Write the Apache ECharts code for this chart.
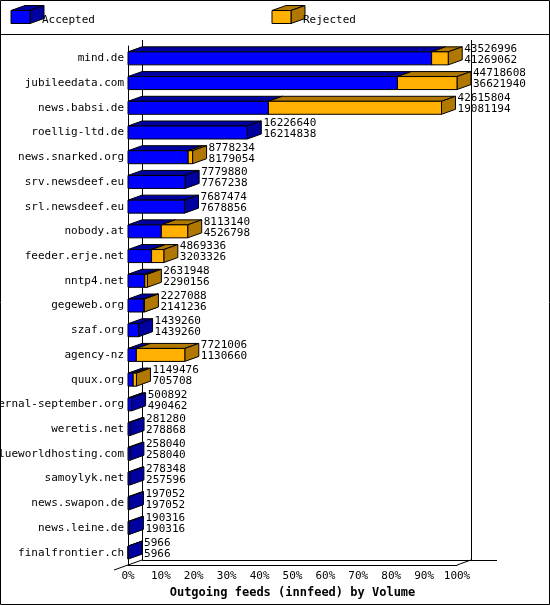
<!DOCTYPE html>
<html><head><meta charset="utf-8">
<script src="https://cdn.jsdelivr.net/npm/echarts@6/dist/echarts.min.js"></script>
<style>html,body{margin:0;padding:0;background:#fff}#c{width:550px;height:605px}</style>
</head><body><div id="c"></div>
<script>
var sites = ['mind.de','jubileedata.com','news.babsi.de','roellig-ltd.de','news.snarked.org','srv.newsdeef.eu','srl.newsdeef.eu','nobody.at','feeder.erje.net','nntp4.net','gegeweb.org','szaf.org','agency-nz','quux.org','eternal-september.org','weretis.net','blueworldhosting.com','samoylyk.net','news.swapon.de','news.leine.de','finalfrontier.ch'];
var offered = [43526996,44718608,42615804,16226640,8778234,7779880,7687474,8113140,4869336,2631948,2227088,1439260,7721006,1149476,500892,281280,258040,278348,197052,190316,5966];
var accepted = [41269062,36621940,19081194,16214838,8179054,7767238,7678856,4526798,3203326,2290156,2141236,1439260,1130660,705708,490462,278868,258040,257596,197052,190316,5966];

var maxV = Math.max.apply(null, offered);
var DX = 14, DY = 5, H = 13;
var FONT = '"DejaVu Sans Mono", monospace';

function box(x0, x1, yc, front, dark) {
  var y0 = yc - H / 2, y1 = yc + H / 2;
  var st = {stroke: '#000', lineWidth: 1};
  return [
    {type: 'polygon', shape: {points: [[x0, y0], [x0 + DX, y0 - DY], [x1 + DX, y0 - DY], [x1, y0]]}, style: Object.assign({fill: dark}, st)},
    {type: 'polygon', shape: {points: [[x1, y0], [x1 + DX, y0 - DY], [x1 + DX, y1 - DY], [x1, y1]]}, style: Object.assign({fill: dark}, st)},
    {type: 'rect', shape: {x: x0, y: y0, width: x1 - x0, height: H}, style: Object.assign({fill: front}, st)}
  ];
}

var data = sites.map(function (s, i) {
  return [i, accepted[i] / maxV * 100, offered[i] / maxV * 100, offered[i], accepted[i]];
});

var chart = echarts.init(document.getElementById('c'));
chart.setOption({
  animation: false,
  grid: {left: 128, right: 93, top: 46, bottom: 40, containLabel: false, outerBoundsMode: 'none'},
  xAxis: {type: 'value', min: 0, max: 100, interval: 10,
    axisLine: {show: true, lineStyle: {color: '#000'}}, axisTick: {show: false},
    splitLine: {show: false},
    axisLabel: {formatter: '{value}%', color: '#000', fontFamily: FONT, fontSize: 11, margin: 6},
    name: 'Outgoing feeds (innfeed) by Volume', nameLocation: 'middle', nameGap: 22,
    nameTextStyle: {color: '#000', fontFamily: FONT, fontSize: 12, fontWeight: 'bold'}},
  yAxis: {type: 'category', data: sites, inverse: true,
    axisLine: {show: true, onZero: false, lineStyle: {color: '#000'}}, axisTick: {show: false},
    axisLabel: {color: '#000', fontFamily: FONT, fontSize: 11, margin: 4}},
  series: [{
    type: 'custom',
    data: data,
    encode: {x: [1, 2], y: 0},
    renderItem: function (params, api) {
      var i = api.value(0);
      var p0 = api.coord([0, i]);
      var pa = api.coord([api.value(1), i]);
      var pt = api.coord([api.value(2), i]);
      var yc = p0[1];
      var kids = box(p0[0], pa[0], yc, '#0000ff', '#0000a0');
      if (pt[0] > pa[0] + 0.5) {
        kids = kids.concat(box(pa[0], pt[0], yc, '#ffb000', '#b07800'));
      }
      kids.push({type: 'text', style: {
        x: pt[0] + DX + 2, y: yc - 4, text: api.value(3) + '\n' + api.value(4),
        fill: '#000', font: '11px ' + FONT, lineHeight: 11, verticalAlign: 'middle', align: 'left'}});
      return {type: 'group', children: kids};
    }
  }]
});

var o = chart.convertToPixel({gridIndex: 0}, [0, 0]);
var e = chart.convertToPixel({gridIndex: 0}, [100, sites.length - 1]);
var yTop = 40, yBot = 565;
chart.setOption({graphic: [
  {type: 'rect', shape: {x: 0.5, y: 0.5, width: 549, height: 604}, style: {fill: 'none', stroke: '#000'}, z: -1},
  {type: 'line', shape: {x1: 0, y1: 34.5, x2: 550, y2: 34.5}, style: {stroke: '#000'}},
  {type: 'line', shape: {x1: o[0] + DX + 0.5, y1: yTop, x2: o[0] + DX + 0.5, y2: yBot - DY}, style: {stroke: '#000'}, z: -1},
  {type: 'line', shape: {x1: e[0] + DX + 0.5, y1: yTop, x2: e[0] + DX + 0.5, y2: yBot - DY}, style: {stroke: '#000'}, z: -1},
  {type: 'line', shape: {x1: o[0] + DX, y1: yBot - DY + 0.5, x2: 497, y2: yBot - DY + 0.5}, style: {stroke: '#000'}, z: -1},
  {type: 'line', shape: {x1: o[0] - 14, y1: yBot + 5, x2: o[0] + DX, y2: yBot - DY}, style: {stroke: '#000'}, z: -1},
  {type: 'line', shape: {x1: e[0], y1: yBot, x2: e[0] + DX, y2: yBot - DY}, style: {stroke: '#000'}, z: -1},
  {type: 'group', children: box(11, 30, 17, '#0000ff', '#0000a0')},
  {type: 'text', style: {x: 42, y: 20, text: 'Accepted', font: '11px ' + FONT, fill: '#000', verticalAlign: 'middle'}},
  {type: 'group', children: box(272, 291, 17, '#ffb000', '#b07800')},
  {type: 'text', style: {x: 303, y: 20, text: 'Rejected', font: '11px ' + FONT, fill: '#000', verticalAlign: 'middle'}}
]});
</script>
</body></html>
